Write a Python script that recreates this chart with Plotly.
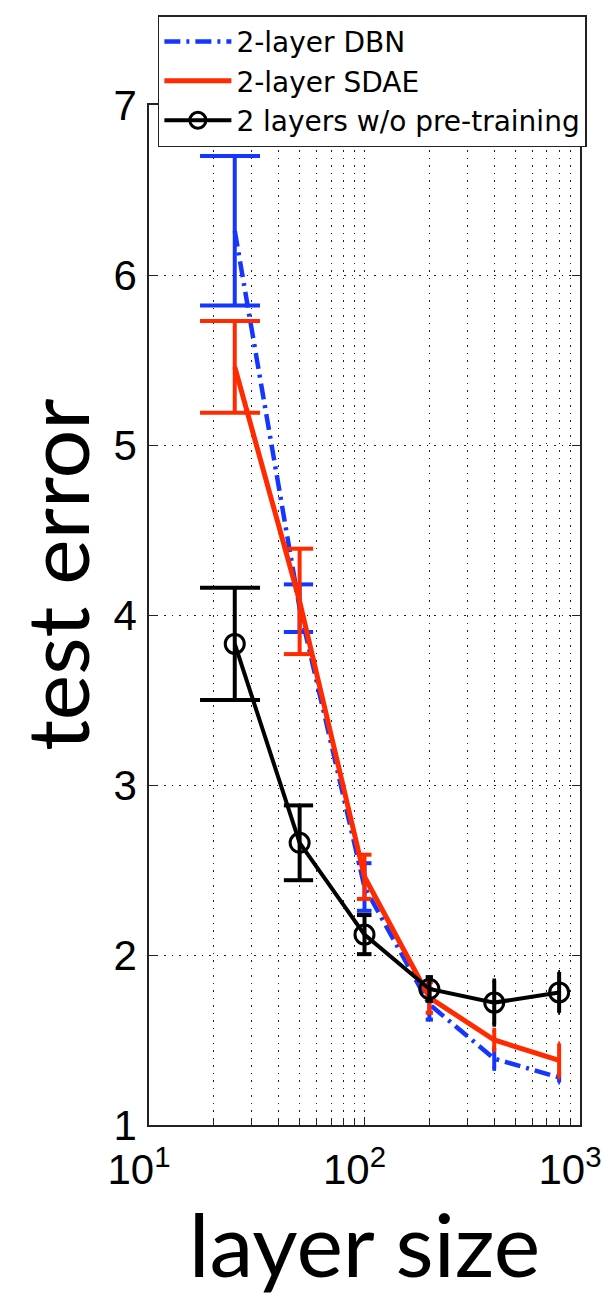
import plotly.graph_objects as go

# ---- data ----
layer_size = [25, 50, 100, 200, 400, 800]

dbn_mean = [6.26, 4.04, 2.40, 1.71, 1.39, 1.28]
dbn_err = [0.44, 0.14, 0.14, 0.09, 0.06, 0.03]

sdae_mean = [5.46, 4.08, 2.46, 1.75, 1.50, 1.38]
sdae_err = [0.27, 0.31, 0.13, 0.09, 0.06, 0.10]

nopre_mean = [3.83, 2.66, 2.12, 1.80, 1.72, 1.78]
nopre_err = [0.33, 0.22, 0.115, 0.07, 0.13, 0.12]

series_names = ["2-layer DBN", "2-layer SDAE", "2 layers w/o pre-training"]
x_tickvals = [10, 100, 1000]
x_ticktext = ["10<sup>1</sup>", "10<sup>2</sup>", "10<sup>3</sup>"]
y_tickvals = [1, 2, 3, 4, 5, 6, 7]

BLUE = "#1436ff"
RED = "#ff2a00"
BLACK = "#000000"


def errorbar_segments(x, mean, err):
    """MATLAB-style error bars: cap half-width = (max(x)-min(x))/100 in data units."""
    d = (max(x) - min(x)) / 100.0
    xs, ys = [], []
    for xi, m, e in zip(x, mean, err):
        lo, hi = m - e, m + e
        xs += [xi, xi, None, xi - d, xi + d, None, xi - d, xi + d, None]
        ys += [lo, hi, None, lo, lo, None, hi, hi, None]
    return xs, ys


fig = go.Figure()

specs = [
    (dbn_mean, dbn_err, BLUE, dict(color=BLUE, width=4.5, dash="16px,6px,3px,6px"), None, "lines", series_names[0]),
    (sdae_mean, sdae_err, RED, dict(color=RED, width=5), None, "lines", series_names[1]),
    (nopre_mean, nopre_err, BLACK, dict(color=BLACK, width=4),
     dict(symbol="circle-open", size=19, color=BLACK, line=dict(width=3, color=BLACK)), "lines+markers", series_names[2]),
]

for mean, err, col, line, marker, mode, name in specs:
    ex, ey = errorbar_segments(layer_size, mean, err)
    fig.add_trace(go.Scatter(x=ex, y=ey, mode="lines", line=dict(color=col, width=4),
                             showlegend=False, hoverinfo="skip"))
    kw = dict(x=layer_size, y=mean, mode=mode, name=name, line=line)
    if marker is not None:
        kw["marker"] = marker
    fig.add_trace(go.Scatter(**kw))

axis_common = dict(
    showline=True, linecolor="#222", linewidth=1.5, mirror="allticks",
    ticks="inside", tickcolor="#222", tickwidth=1.2, ticklen=8,
    showgrid=True, gridcolor="#222", gridwidth=1.2, griddash="1.5px,6px",
    zeroline=False,
    tickfont=dict(family="Liberation Sans, Arial", size=42, color="black"),
)

fig.update_xaxes(
    type="log", range=[1, 3],
    tickvals=x_tickvals, ticktext=x_ticktext,
    minor=dict(dtick="D1", ticks="inside", ticklen=7, tickcolor="#222", showgrid=True,
               gridcolor="#222", gridwidth=1.2, griddash="1.5px,6px"),
    title=dict(text="layer size", font=dict(family="Lato", size=88, color="black"), standoff=22),
    ticklabelshift=-10, ticklabelstandoff=7,
    **axis_common,
)
fig.update_yaxes(
    range=[1, 7], tickvals=y_tickvals,
    ticklabelstandoff=2,
    **axis_common,
)

fig.add_annotation(
    text="test error", textangle=-90, xref="paper", yref="paper",
    x=-0.341, y=0.539, xanchor="left", yanchor="middle", showarrow=False,
    font=dict(family="Lato", size=86, color="black"),
)

fig.update_layout(
    width=614, height=1296, autosize=False,
    margin=dict(l=149, r=28, t=105, b=171),
    plot_bgcolor="white", paper_bgcolor="white",
    legend=dict(
        x=0.0206, y=1.088, xanchor="left", yanchor="top",
        bgcolor="white", bordercolor="#222", borderwidth=1.5,
        font=dict(family="DejaVu Sans", size=28, color="black"),
        itemwidth=67, tracegroupgap=0,
    ),
    showlegend=True,
)

fig.write_html("out.html")
